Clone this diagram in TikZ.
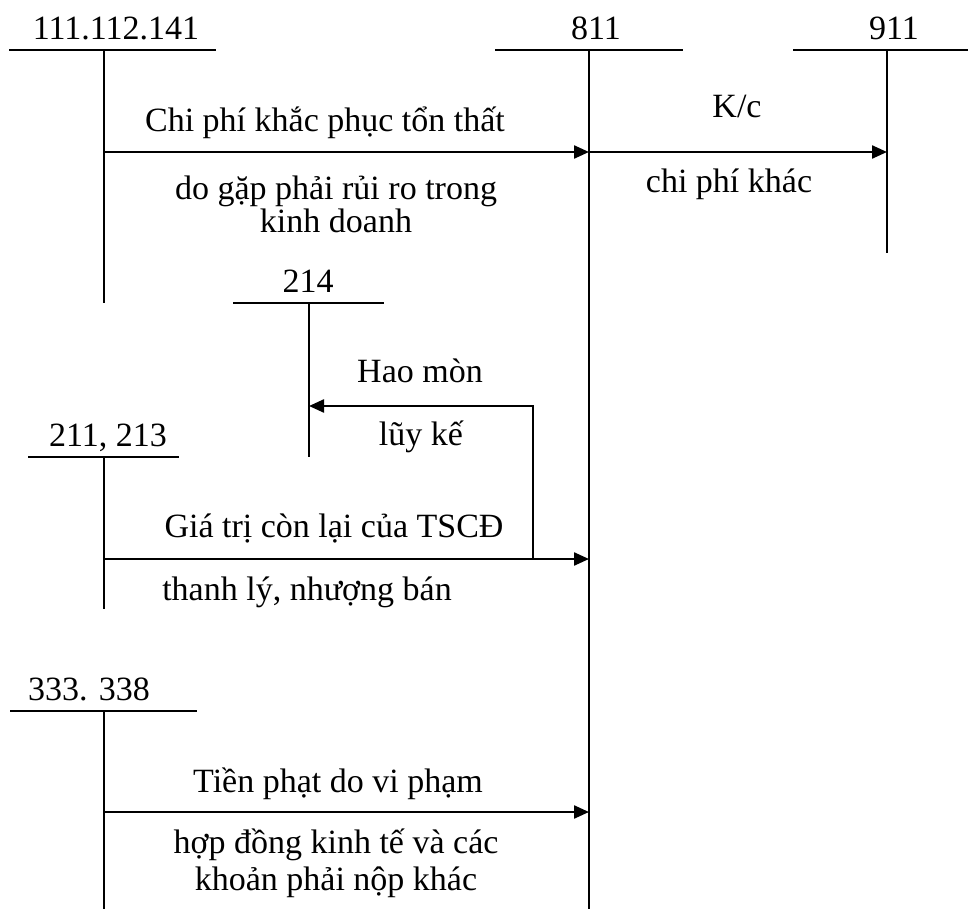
\documentclass[tikz,border=0pt]{standalone}
\usepackage{fontspec}
\setmainfont{Liberation Serif}
\usetikzlibrary{arrows.meta}

\begin{document}
\begin{tikzpicture}[x=1pt,y=-1pt,>={Triangle[length=15pt,width=13pt]},line cap=butt]
\useasboundingbox[fill=white] (0,0) rectangle (968,909);
\tikzset{tline/.style={draw=black,line width=1.9pt},flow/.style={draw=black,line width=2.3pt,->},lbl/.style={anchor=base,inner sep=0pt,font=\fontsize{34}{40}\selectfont}}
\node[lbl] (n111) at (116,40) {111.112.141};
\coordinate (n111l) at (9,50); \coordinate (n111r) at (216,50); \coordinate (n111t) at (104,50); \coordinate (n111b) at (104,303);
\draw[tline] (n111l) -- (n111r); \draw[tline] (n111t) -- (n111b);
\node[lbl] (n811) at (596,40) {811};
\coordinate (n811l) at (495,50); \coordinate (n811r) at (683,50); \coordinate (n811t) at (589,50); \coordinate (n811b) at (589,909);
\draw[tline] (n811l) -- (n811r); \draw[tline] (n811t) -- (n811b);
\node[lbl] (n911) at (894,40) {911};
\coordinate (n911l) at (793,50); \coordinate (n911r) at (968,50); \coordinate (n911t) at (887,50); \coordinate (n911b) at (887,253);
\draw[tline] (n911l) -- (n911r); \draw[tline] (n911t) -- (n911b);
\node[lbl] (n214) at (308,292) {214};
\coordinate (n214l) at (233,303); \coordinate (n214r) at (384,303); \coordinate (n214t) at (309,303); \coordinate (n214b) at (309,457);
\draw[tline] (n214l) -- (n214r); \draw[tline] (n214t) -- (n214b);
\node[lbl] (n211) at (108,446) {211, 213};
\coordinate (n211l) at (28,457); \coordinate (n211r) at (179,457); \coordinate (n211t) at (104,457); \coordinate (n211b) at (104,609);
\draw[tline] (n211l) -- (n211r); \draw[tline] (n211t) -- (n211b);
\node[lbl] (n333) at (89,700) {333. 338};
\coordinate (n333l) at (10,711); \coordinate (n333r) at (197,711); \coordinate (n333t) at (104,711); \coordinate (n333b) at (104,909);
\draw[tline] (n333l) -- (n333r); \draw[tline] (n333t) -- (n333b);
\coordinate (lossA) at (104,152); \coordinate (lossB) at (589,152); \coordinate (kcB) at (887,152);
\coordinate (hmA) at (533,559); \coordinate (hmK) at (533,406); \coordinate (hmB) at (309,406);
\coordinate (gtA) at (104,559); \coordinate (gtB) at (589,559);
\coordinate (tpA) at (104,812); \coordinate (tpB) at (589,812);
\draw[flow] (lossA) -- (lossB); \draw[flow] (lossB) -- (kcB);
\draw[flow] (hmA) -- (hmK) -- (hmB);
\draw[flow] (gtA) -- (gtB); \draw[flow] (tpA) -- (tpB);
\node[lbl] (loss1) at (325,132) {Chi phí khắc phục tổn thất};
\node[lbl] (loss2) at (336,200) {do gặp phải rủi ro trong};
\node[lbl] (loss3) at (336,233) {kinh doanh};
\node[lbl] (kc1) at (737,118) {K/c};
\node[lbl] (kc2) at (729,193) {chi phí khác};
\node[lbl] (hm1) at (420,382) {Hao mòn};
\node[lbl] (hm2) at (421,445) {lũy kế};
\node[lbl] (gt1) at (334,537) {Giá trị còn lại của TSCĐ};
\node[lbl] (gt2) at (307,600) {thanh lý, nhượng bán};
\node[lbl] (tp1) at (338,792) {Tiền phạt do vi phạm};
\node[lbl] (tp2) at (336,853) {hợp đồng kinh tế và các};
\node[lbl] (tp3) at (336,890) {khoản phải nộp khác};
\end{tikzpicture}
\end{document}
